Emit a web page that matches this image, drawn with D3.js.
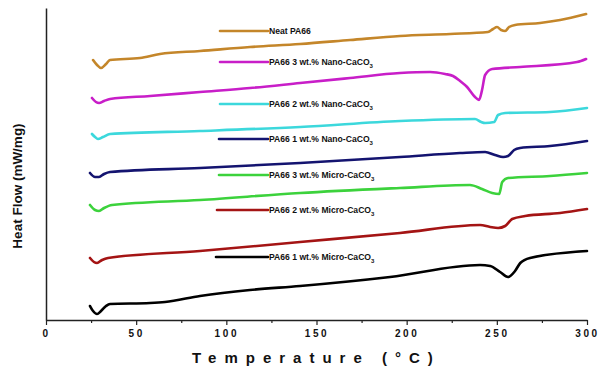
<!DOCTYPE html>
<html>
<head>
<meta charset="utf-8">
<script src="https://cdn.jsdelivr.net/npm/d3@7"></script>
<style>
  body { margin: 0; background: #fff; }
  svg { display: block; font-family: Arial, "Liberation Sans", sans-serif; }
</style>
</head>
<body>
<svg id="chart" width="599" height="370"></svg>
<script>
// Temperature (°C) and heat flow (arbitrary units, curves stacked)
var neatPA66 = [[26.1,26.0],[28.3,25.5],[30.5,25.2],[33.3,25.6],[35.5,26.0],[52.1,26.2],[63.2,26.6],[85.4,26.9],[113.1,27.3],[140.9,27.6],[168.6,28.0],[196.3,28.4],[224.1,28.6],[245.1,28.8],[247.9,29.1],[250.1,29.3],[252.4,29.0],[254.6,28.9],[256.8,29.3],[260.1,29.5],[274.0,29.7],[285.1,30.0],[299.5,30.6]];
var nano3 = [[25.5,22.2],[27.7,21.8],[29.4,21.7],[32.2,21.9],[35.5,22.1],[57.7,22.4],[85.4,22.8],[113.1,23.2],[140.9,23.7],[168.6,24.2],[196.3,24.7],[213.0,24.8],[221.3,24.6],[225.7,24.4],[229.6,23.9],[233.5,23.3],[237.9,22.3],[240.1,22.0],[241.8,23.0],[243.5,24.5],[247.4,25.1],[262.9,25.3],[294.5,25.8],[299.5,26.1]];
var nano2 = [[25.5,18.6],[27.2,18.3],[28.8,18.1],[31.6,18.3],[35.5,18.6],[85.4,18.9],[140.9,19.3],[196.3,19.9],[237.9,20.1],[241.3,19.8],[243.5,19.7],[248.5,19.8],[250.7,20.5],[254.6,20.7],[279.5,20.8],[300,21.2]];
var nano1 = [[24.4,14.7],[27.2,14.3],[29.4,14.3],[32.2,14.6],[35.5,14.8],[85.4,15.2],[140.9,15.7],[196.3,16.3],[229.6,16.7],[243.5,16.8],[249.0,16.5],[253.5,16.3],[256.2,16.4],[259.6,17.0],[262.9,17.2],[279.5,17.4],[300,17.9]];
var micro3 = [[24.4,11.5],[27.2,11.0],[29.4,10.9],[32.2,11.2],[36.6,11.5],[85.4,12.0],[140.9,12.7],[196.3,13.2],[235.1,13.5],[241.8,13.1],[247.4,12.7],[251.3,12.6],[253.0,13.8],[256.2,14.2],[279.5,14.4],[300,14.7]];
var micro2 = [[24.4,6.2],[26.6,5.8],[28.3,5.7],[31.1,6.0],[34.4,6.2],[85.4,6.9],[140.9,7.8],[196.3,8.7],[240.7,9.5],[246.3,9.3],[250.7,9.2],[254.6,9.4],[258.5,10.1],[265.7,10.4],[285.1,10.7],[300,11.1]];
var micro1 = [[24.4,1.4],[26.1,0.9],[28.3,0.6],[30.5,0.9],[33.3,1.4],[35.5,1.6],[57.7,1.7],[66.0,1.8],[85.4,2.4],[113.1,3.0],[140.9,3.4],[190.8,4.3],[240.7,5.5],[246.3,5.4],[251.8,4.8],[256.2,4.3],[260.1,4.9],[263.0,5.7],[268.4,6.2],[300,6.9]];

var seriesNames = ["Neat PA66", "PA66 3 wt.% Nano-CaCO", "PA66 2 wt.% Nano-CaCO", "PA66 1 wt.% Nano-CaCO",
  "PA66 3 wt.% Micro-CaCO", "PA66 2 wt.% Micro-CaCO", "PA66 1 wt.% Micro-CaCO"];
var seriesData = [neatPA66, nano3, nano2, nano1, micro3, micro2, micro1];
var xTicks = [0, 50, 100, 150, 200, 250, 300];
var xMinorTicks = [25, 75, 125, 175, 225, 275];

var colors = ["#c4862a", "#c81ec8", "#3cd8dc", "#141470", "#3cd23c", "#a41414", "#000000"];
// legend rows: y position and left x of the sample line
var legendRows = [[31, 220], [62, 220], [104, 220], [139, 219], [175, 219], [210, 217], [257, 216]];

var svg = d3.select("#chart");
var padding = { top: 8, right: 12, bottom: 50, left: 46 };
var width = +svg.attr("width");
var height = +svg.attr("height");

var xScale = d3.scaleLinear()
  .domain([0, 300])
  .range([padding.left, 587]);

var yScale = d3.scaleLinear()
  .domain([0, 31.2])
  .range([height - padding.bottom, padding.top]);

// x axis
var xAxis = d3.axisBottom(xScale)
  .tickValues(xTicks)
  .tickSize(5)
  .tickSizeOuter(0)
  .tickPadding(5)
  .tickFormat(d3.format("d"));

var gx = svg.append("g")
  .attr("class", "x-axis")
  .attr("transform", `translate(0,${height - padding.bottom})`)
  .call(xAxis);

gx.select(".domain").attr("stroke", "#222").attr("stroke-width", 1.5);
gx.selectAll(".tick line").attr("stroke", "#222").attr("stroke-width", 1.2);
gx.selectAll(".tick text")
  .attr("fill", "#111")
  .style("font-size", "10px")
  .style("font-weight", "bold")
  .style("letter-spacing", "2.6px");

svg.append("g")
  .attr("transform", `translate(0,${height - padding.bottom})`)
  .call(d3.axisBottom(xScale).tickValues(xMinorTicks).tickSize(3).tickSizeOuter(0).tickFormat(""))
  .call(function(g) {
    g.select(".domain").remove();
    g.selectAll(".tick line").attr("stroke", "#222").attr("stroke-width", 1.2);
  });

// y axis: plain line, no ticks
var gy = svg.append("g")
  .attr("class", "y-axis")
  .attr("transform", `translate(${padding.left},0)`)
  .call(d3.axisLeft(yScale).tickValues([]).tickSizeOuter(0));
gy.select(".domain").attr("stroke", "#222").attr("stroke-width", 1.5);

// curves
var line = d3.line()
  .x(function(d) { return xScale(d[0]); })
  .y(function(d) { return yScale(d[1]); })
  .curve(d3.curveMonotoneX);

svg.selectAll(".curve")
  .data(seriesData)
  .enter()
  .append("path")
  .attr("class", "curve")
  .attr("d", line)
  .attr("fill", "none")
  .attr("stroke", function(d, i) { return colors[i]; })
  .attr("stroke-width", 2.6)
  .attr("stroke-linejoin", "round")
  .attr("stroke-linecap", "round");

// legend
var legend = svg.selectAll(".legend")
  .data(seriesNames)
  .enter()
  .append("g")
  .attr("class", "legend")
  .attr("transform", function(d, i) { return `translate(${legendRows[i][1]},${legendRows[i][0]})`; });

legend.append("line")
  .attr("x1", 0)
  .attr("x2", function(d, i) { return 268 - legendRows[i][1]; })
  .attr("stroke", function(d, i) { return colors[i]; })
  .attr("stroke-width", 2.6)
  .attr("stroke-linecap", "round");

var legendText = legend.append("text")
  .attr("x", function(d, i) { return 269 - legendRows[i][1]; })
  .attr("y", 3.2)
  .attr("fill", "#111")
  .style("font-size", "8.6px")
  .style("font-weight", "bold")
  .text(function(d) { return d; });

legendText.filter(function(d, i) { return i > 0; })
  .append("tspan")
  .attr("dy", 2.5)
  .style("font-size", "6px")
  .text("3");

// axis titles
svg.append("text")
  .attr("x", 192)
  .attr("y", 363)
  .attr("fill", "#111")
  .style("font-size", "15px")
  .style("font-weight", "bold")
  .style("letter-spacing", "8px")
  .text("Temperature (°C)");

svg.append("text")
  .attr("transform", "rotate(-90)")
  .attr("x", -186)
  .attr("y", 22)
  .attr("fill", "#111")
  .style("text-anchor", "middle")
  .style("font-size", "13.5px")
  .style("font-weight", "bold")
  .text("Heat Flow (mW/mg)");
</script>
</body>
</html>
